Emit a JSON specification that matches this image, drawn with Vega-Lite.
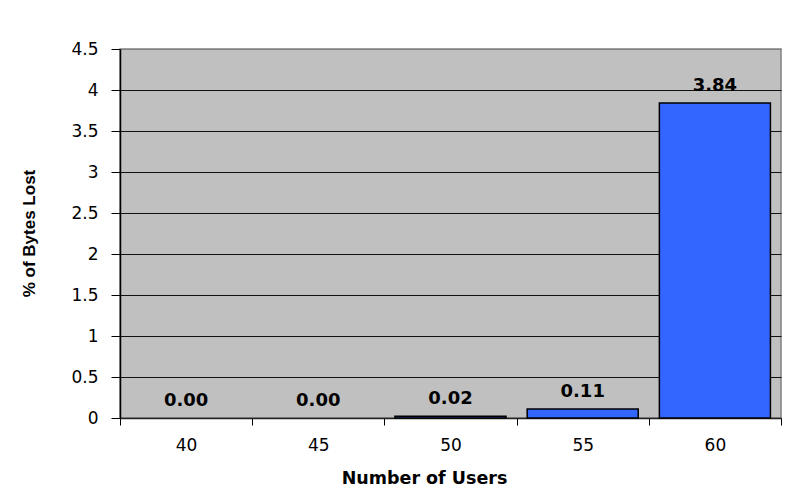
{
  "$schema": "https://vega.github.io/schema/vega-lite/v6.json",
  "width": 661,
  "height": 369,
  "autosize": {"type": "none"},
  "padding": {"left": 120, "top": 49, "right": 7, "bottom": 72},
  "background": "white",
  "config": {
    "view": {"fill": "#C0C0C0", "stroke": "#808080", "strokeWidth": 1.5}
  },
  "data": {
    "values": [
      {"users": "40", "lost": 0.0},
      {"users": "45", "lost": 0.0},
      {"users": "50", "lost": 0.02},
      {"users": "55", "lost": 0.11},
      {"users": "60", "lost": 3.84}
    ]
  },
  "encoding": {
    "x": {
      "field": "users",
      "type": "ordinal",
      "sort": null,
      "scale": {"paddingInner": 0, "paddingOuter": 0},
      "axis": {
        "title": "Number of Users",
        "titleFont": "DejaVu Sans",
        "titleFontSize": 17.5,
        "titleFontWeight": "bold",
        "titleColor": "#000",
        "titleX": 304,
        "titleY": 65,
        "titleBaseline": "alphabetic",
        "labelFont": "DejaVu Sans",
        "labelFontSize": 17,
        "labelColor": "#000",
        "labelAngle": 0,
        "labelPadding": 12,
        "tickBand": "extent",
        "tickSize": 7,
        "tickColor": "#000",
        "domainColor": "#222",
        "domainWidth": 1.5
      }
    },
    "y": {
      "field": "lost",
      "type": "quantitative",
      "scale": {"domain": [0, 4.5]},
      "axis": {
        "title": "% of Bytes Lost",
        "titleFont": "Liberation Sans",
        "titleFontSize": 17,
        "titleFontWeight": "bold",
        "titleColor": "#000",
        "titleX": -86,
        "titleY": 184,
        "titleAngle": -90,
        "titleBaseline": "alphabetic",
        "values": [0, 0.5, 1, 1.5, 2, 2.5, 3, 3.5, 4, 4.5],
        "format": "~g",
        "labelFont": "DejaVu Sans",
        "labelFontSize": 17,
        "labelColor": "#000",
        "labelPadding": 13,
        "tickSize": 9,
        "tickColor": "#000",
        "domainColor": "#000",
        "domainWidth": 1.5,
        "grid": true,
        "gridColor": {"condition": {"test": "datum.value == 4.5", "value": "#808080"}, "value": "#111"},
        "gridOpacity": 1,
        "gridWidth": 1
      }
    }
  },
  "layer": [
    {
      "mark": {
        "type": "bar",
        "fill": "#3366FF",
        "stroke": "#000",
        "strokeWidth": 1.5,
        "width": {"band": 0.84}
      },
      "encoding": {
        "strokeOpacity": {
          "condition": {"test": "datum.lost == 0", "value": 0},
          "value": 1
        }
      }
    },
    {
      "mark": {
        "type": "text",
        "font": "DejaVu Sans",
        "fontWeight": "bold",
        "fontSize": 18,
        "color": "#000",
        "baseline": "alphabetic",
        "dy": -12
      },
      "encoding": {
        "text": {"field": "lost", "type": "quantitative", "format": ".2f"}
      }
    }
  ]
}
